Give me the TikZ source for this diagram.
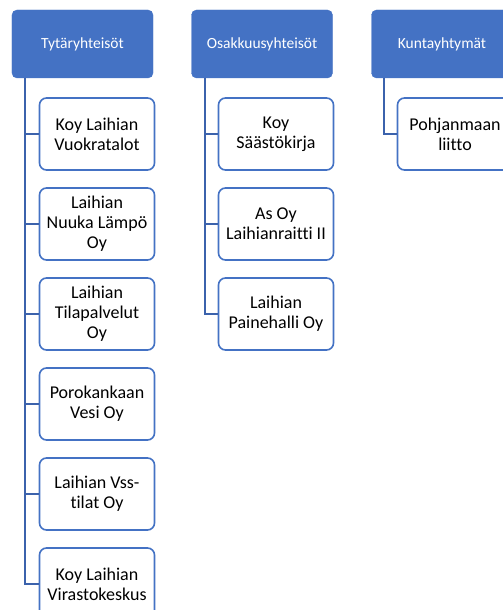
\documentclass[tikz,border=0pt]{standalone}
\usepackage{fontspec}
\setmainfont{Carlito}[Ligatures=NoCommon]
\definecolor{hdblue}{HTML}{4472C4}
\definecolor{lnblue}{HTML}{3B62AC}
\begin{document}
\begin{tikzpicture}[x=1bp,y=-1bp,
  head/.style={fill=hdblue,draw=hdblue,rounded corners=5bp,minimum width=141bp,minimum height=68bp,inner sep=0pt,text=white,font=\fontsize{15.5bp}{18bp}\selectfont,align=center},
  child/.style={fill=white,draw=hdblue,line width=1.6bp,rounded corners=7bp,minimum width=115bp,minimum height=72bp,inner sep=0pt,font=\fontsize{18bp}{20bp}\selectfont,align=center},
  conn/.style={draw=lnblue,line width=2.4bp}]
\useasboundingbox (0,0) rectangle (503,610);
\clip (0,0) rectangle (503,610);
% headers
\node[head] (t1) at (82.5,44) {Tytäryhteisöt};
\node[head] (t2) at (262,44) {Osakkuusyhteisöt};
\node[head] (t3) at (442,44) {Kuntayhtymät};
% left column
\node[child] (a1) at (97,134) {Koy Laihian\\Vuokratalot};
\node[child] (a2) at (97,224) {Laihian\\Nuuka Lämpö\\Oy};
\node[child] (a3) at (97,314) {Laihian\\Tilapalvelut\\Oy};
\node[child] (a4) at (97,404) {Porokankaan\\Vesi Oy};
\node[child] (a5) at (97,494) {Laihian Vss-\\tilat Oy};
\node[child] (a6) at (97,584) {Koy Laihian\\Virastokeskus};
% middle column
\node[child] (b1) at (276,134) {Koy\\Säästökirja};
\node[child] (b2) at (276,224) {As Oy\\Laihianraitti II};
\node[child] (b3) at (276,314) {Laihian\\Painehalli Oy};
% right column
\node[child] (k1) at (455,134) {Pohjanmaan\\liitto};
% connectors
\coordinate (v1) at (25,78);
\coordinate (v2) at (205,78);
\coordinate (v3) at (384,78);
\draw[conn] (v1) |- (a6.west);
\foreach \n in {a1,a2,a3,a4,a5} \draw[conn] (\n.west -| v1) -- (\n.west);
\draw[conn] (v2) |- (b3.west);
\foreach \n in {b1,b2} \draw[conn] (\n.west -| v2) -- (\n.west);
\draw[conn] (v3) |- (k1.west);
\end{tikzpicture}
\end{document}
